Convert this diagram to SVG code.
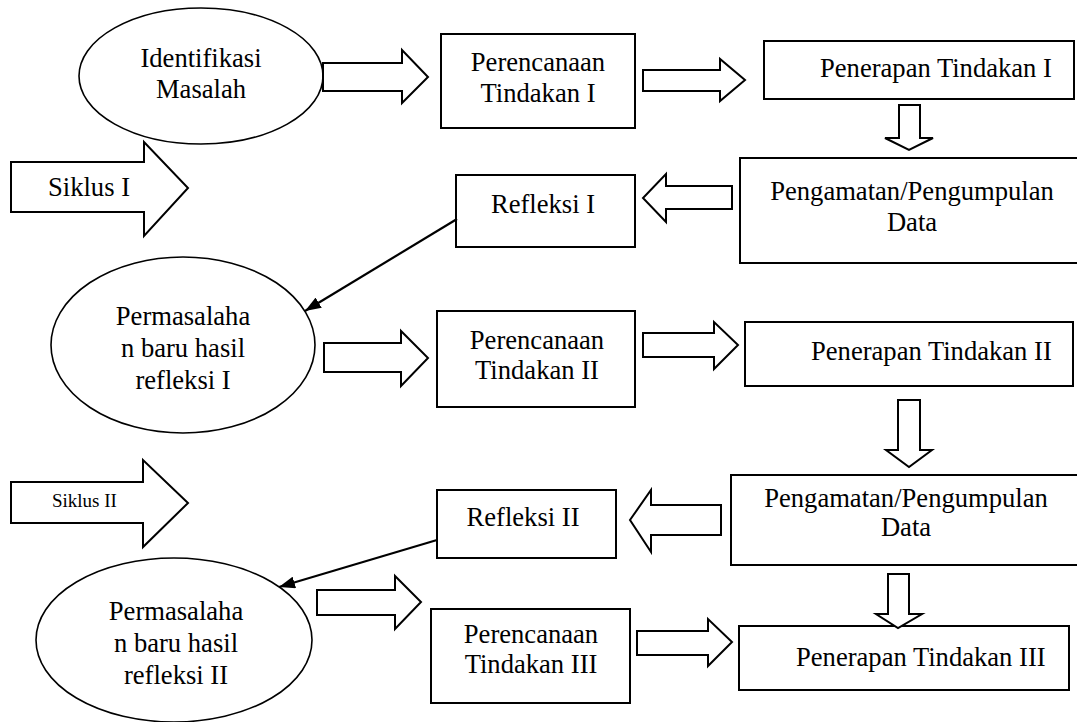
<svg xmlns="http://www.w3.org/2000/svg" width="1077" height="722" viewBox="0 0 1077 722" font-family="'Liberation Serif', 'Times New Roman', serif">
<style>
  .box { fill: #fff; stroke: #000; stroke-width: 2; }
  .ell { fill: #fff; stroke: #000; stroke-width: 1.6; }
  .blk { fill: #fff; stroke: #000; stroke-width: 2; stroke-linejoin: miter; }
  .t { font-family: 'Liberation Serif', 'Times New Roman', serif; font-size: 26.6px; fill: #000; }
  .s { font-size: 19px; }
  .m { text-anchor: middle; }
  .ln { stroke: #000; stroke-width: 2.2; fill: none; }
</style>
<defs>
  <marker id="ah" viewBox="0 0 16 12" refX="16" refY="6" markerWidth="16" markerHeight="12" markerUnits="userSpaceOnUse" orient="auto">
    <path d="M0,0 L16,6 L0,12 z" fill="#000"/>
  </marker>
</defs>
<rect width="1077" height="722" fill="#fff"/>

<g id="siklus1">
  <polygon class="blk" points="11,162 144,162 144,142 188,188 144,236 144,212 11,212"/>
  <text class="t" x="48" y="196">Siklus I</text>
</g>
<g id="identifikasi">
  <ellipse class="ell" cx="201" cy="76" rx="122" ry="68"/>
  <text class="t m" x="201" y="67">Identifikasi</text>
  <text class="t m" x="201" y="98">Masalah</text>
</g>
<g id="perencanaan1">
  <rect class="box" x="441" y="34" width="194" height="94"/>
  <text class="t m" x="538" y="71">Perencanaan</text>
  <text class="t m" x="538" y="102">Tindakan I</text>
</g>
<g id="penerapan1">
  <rect class="box" x="764" y="41" width="310" height="58"/>
  <text class="t" x="820" y="77">Penerapan Tindakan I</text>
</g>
<g id="pengamatan1">
  <rect class="box" x="740" y="158" width="360" height="105"/>
  <text class="t m" x="912" y="200">Pengamatan/Pengumpulan</text>
  <text class="t m" x="912" y="231">Data</text>
</g>
<g id="refleksi1">
  <rect class="box" x="456" y="175" width="179" height="72"/>
  <text class="t m" x="543" y="213">Refleksi I</text>
</g>
<g id="permasalahan1">
  <ellipse class="ell" cx="183" cy="345" rx="132" ry="88"/>
  <text class="t m" x="183" y="325">Permasalaha</text>
  <text class="t m" x="183" y="357">n baru hasil</text>
  <text class="t m" x="183" y="389">refleksi I</text>
</g>
<g id="perencanaan2">
  <rect class="box" x="437" y="311" width="198" height="96"/>
  <text class="t m" x="537" y="349">Perencanaan</text>
  <text class="t m" x="537" y="379">Tindakan II</text>
</g>
<g id="penerapan2">
  <rect class="box" x="745" y="322" width="328" height="64"/>
  <text class="t" x="811" y="360">Penerapan Tindakan II</text>
</g>
<g id="pengamatan2">
  <rect class="box" x="731" y="475" width="370" height="90"/>
  <text class="t m" x="906" y="507">Pengamatan/Pengumpulan</text>
  <text class="t m" x="906" y="536">Data</text>
</g>
<g id="refleksi2">
  <rect class="box" x="437" y="490" width="179" height="68"/>
  <text class="t m" x="523" y="526">Refleksi II</text>
</g>
<g id="siklus2">
  <polygon class="blk" points="11,482 143,482 143,460 188,503 143,547 143,523 11,523"/>
  <text class="t s" x="52" y="507">Siklus II</text>
</g>
<g id="permasalahan2">
  <ellipse class="ell" cx="174" cy="640" rx="138" ry="82"/>
  <text class="t m" x="176" y="620">Permasalaha</text>
  <text class="t m" x="176" y="652">n baru hasil</text>
  <text class="t m" x="176" y="684">refleksi II</text>
</g>
<g id="perencanaan3">
  <rect class="box" x="431" y="609" width="199" height="94"/>
  <text class="t m" x="531" y="643">Perencanaan</text>
  <text class="t m" x="531" y="673">Tindakan III</text>
</g>
<g id="penerapan3">
  <rect class="box" x="739" y="626" width="330" height="64"/>
  <text class="t" x="796" y="666">Penerapan Tindakan III</text>
</g>

<g id="connectors">
  <polygon class="blk" points="323,63 402,63 402,50 428,77 402,103 402,91 323,91"/>
  <polygon class="blk" points="643,70 720,70 720,59 745,80 720,101 720,91 643,91"/>
  <polygon class="blk" points="899,105 920,105 920,138 933,138 909,150 885,138 899,138"/>
  <polygon class="blk" points="732,186 666,186 666,174 643,198 666,222 666,209 732,209"/>
  <polygon class="blk" points="324,343 401,343 401,331 428,358 401,386 401,372 324,372"/>
  <polygon class="blk" points="643,333 714,333 714,322 738,345 714,369 714,357 643,357"/>
  <polygon class="blk" points="898,400 920,400 920,450 932,450 909,467 886,450 898,450"/>
  <polygon class="blk" points="721,505 651,505 651,490 630,520 651,552 651,535 721,535"/>
  <polygon class="blk" points="317,590 395,590 395,576 421,602 395,629 395,615 317,615"/>
  <polygon class="blk" points="637,631 708,631 708,619 732,642 708,666 708,655 637,655"/>
  <polygon class="blk" points="888,574 909,574 909,614 922,614 898,628 876,614 888,614"/>
  <line class="ln" x1="457" y1="219" x2="305" y2="311" marker-end="url(#ah)"/>
  <line class="ln" x1="437" y1="540" x2="279" y2="587" marker-end="url(#ah)"/>
</g>
</svg>
